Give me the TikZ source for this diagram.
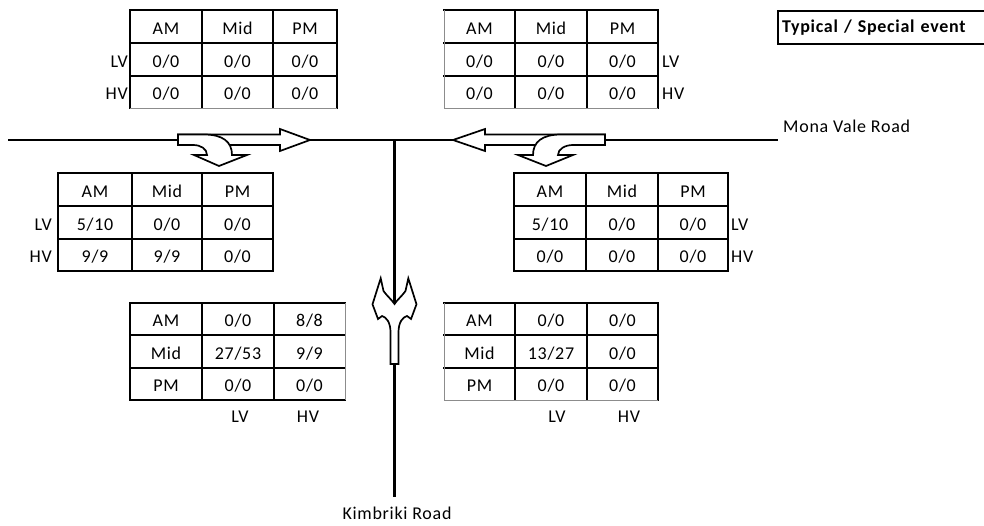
\documentclass[tikz,border=0pt]{standalone}
\usepackage{fontspec}
\setmainfont{Carlito}[LetterSpace=4]
\begin{document}
\begin{tikzpicture}[x=1pt,y=-1pt,
  grid/.style={line width=2.6pt, line cap=rect},
  faint/.style={line width=0.9pt, black!45},
  road/.style={line width=2.2pt},
  arr/.style={line width=1.7pt, fill=white, line join=miter},
  txt/.style={font=\fontsize{18}{21}\selectfont, inner sep=0pt, text height=11.5pt, text depth=0pt}]
\useasboundingbox (0,0) rectangle (984,526);

% roads
\coordinate (mvW) at (8,140);
\coordinate (mvE) at (778,140);
\coordinate (kN) at (394.5,140);
\coordinate (kS) at (394.5,497);
\draw[road] (mvW) -- (mvE);
\draw[road] (kN) -- (kS);
\node[txt, anchor=base west] (mona) at (783,133) {Mona Vale Road};
\node[txt, anchor=base] (kim) at (397,519) {Kimbriki Road};

% left movement arrows
\draw[arr] (178,134.5) -- (280,134.5) -- (280,129) -- (310,140) -- (280,151) -- (280,145) -- (178,145) -- cycle;
\draw[arr] (178,134.5) -- (204,134.5) .. controls (223,134.5) and (232,142) .. (232,155) -- (247,155) -- (219,166) -- (194,155) -- (207,155) .. controls (207,149) and (201,145) .. (193,145) -- (178,145) -- cycle;

% right movement arrows
\draw[arr] (605,134.5) -- (485,134.5) -- (485,129) -- (453,140) -- (485,151) -- (485,145) -- (605,145) -- cycle;
\draw[arr] (605,134.5) -- (561,134.5) .. controls (542,134.5) and (533,142) .. (533,155) -- (518,155) -- (546,166) -- (573,155) -- (558,155) .. controls (558,149) and (565,145) .. (573,145) -- (605,145) -- cycle;

% south approach split arrow
\draw[arr] (390.5,364) -- (390.5,332) .. controls (390.5,322) and (386,317) .. (382,316) -- (378,319) -- (372.5,304.3) -- (380.7,278.3) -- (383.5,291) .. controls (387,296) and (392,300) .. (394.5,304) .. controls (397,300) and (402,296) .. (405.5,291) -- (408.3,278.3) -- (416.5,304.3) -- (411,319) -- (407,316) .. controls (403,317) and (398.5,322) .. (398.5,332) -- (398.5,364) -- cycle;

% legend
\node[draw, line width=2pt, anchor=north west, minimum height=33pt, text width=222pt, inner xsep=4pt, inner ysep=0pt, font=\fontsize{18}{21}\selectfont\bfseries] (legend) at (777,10) {Typical / Special event};

% ---------- table TL ----------
\draw[grid] (130,10) -- (130,108) (130,10) -- (337,10) -- (337,108);
\draw[grid] (202,10) -- (202,108) (273,10) -- (273,108) (130,43) -- (337,43) (130,76) -- (337,76);
\draw[faint] (130,108) -- (337,108);
\foreach \cx/\lbl [count=\i] in {166/AM,237.5/Mid,305/PM} \node[txt] (tl-h\i) at (\cx,28.5) {\lbl};
\foreach \cx [count=\i] in {166,237.5,305} {
  \node[txt] (tl-lv\i) at (\cx,61.5) {0/0};
  \node[txt] (tl-hv\i) at (\cx,94) {0/0};
}
\node[txt, anchor=east] (tl-lv) at (128,61.5) {LV};
\node[txt, anchor=east] (tl-hv) at (128,94) {HV};

% ---------- table TR ----------
\draw[grid] (444,10) -- (658,10) -- (658,108);
\draw[grid] (515,10) -- (515,108) (587,10) -- (587,108) (444,43) -- (658,43) (444,76) -- (658,76);
\draw[faint] (444,10) -- (444,108) -- (658,108);
\foreach \cx/\lbl [count=\i] in {479.5/AM,551/Mid,622.5/PM} \node[txt] (tr-h\i) at (\cx,28.5) {\lbl};
\foreach \cx [count=\i] in {479.5,551,622.5} {
  \node[txt] (tr-lv\i) at (\cx,61.5) {0/0};
  \node[txt] (tr-hv\i) at (\cx,94) {0/0};
}
\node[txt, anchor=west] (tr-lv) at (662,61.5) {LV};
\node[txt, anchor=west] (tr-hv) at (662,94) {HV};

% ---------- table ML ----------
\draw[grid] (58,173) rectangle (273,271);
\draw[grid] (132,173) -- (132,271) (202,173) -- (202,271) (58,206) -- (273,206) (58,239) -- (273,239);
\foreach \cx/\lbl [count=\i] in {95/AM,167/Mid,237.5/PM} \node[txt] (ml-h\i) at (\cx,191.5) {\lbl};
\node[txt] (ml-lv1) at (95,224.5) {5/10};
\node[txt] (ml-lv2) at (167,224.5) {0/0};
\node[txt] (ml-lv3) at (237.5,224.5) {0/0};
\node[txt] (ml-hv1) at (95,257) {9/9};
\node[txt] (ml-hv2) at (167,257) {9/9};
\node[txt] (ml-hv3) at (237.5,257) {0/0};
\node[txt, anchor=east] (ml-lv) at (52,224.5) {LV};
\node[txt, anchor=east] (ml-hv) at (52,257) {HV};

% ---------- table MR ----------
\draw[grid] (514,173) rectangle (728,271);
\draw[grid] (586,173) -- (586,271) (658,173) -- (658,271) (514,206) -- (728,206) (514,239) -- (728,239);
\foreach \cx/\lbl [count=\i] in {550/AM,622/Mid,693/PM} \node[txt] (mr-h\i) at (\cx,191.5) {\lbl};
\node[txt] (mr-lv1) at (550,224.5) {5/10};
\node[txt] (mr-lv2) at (622,224.5) {0/0};
\node[txt] (mr-lv3) at (693,224.5) {0/0};
\foreach \cx [count=\i] in {550,622,693} \node[txt] (mr-hv\i) at (\cx,257) {0/0};
\node[txt, anchor=west] (mr-lv) at (731,224.5) {LV};
\node[txt, anchor=west] (mr-hv) at (731,257) {HV};

% ---------- table BL ----------
\draw[grid] (345,303) -- (130,303) -- (130,400) -- (345,400);
\draw[grid] (202,303) -- (202,400) (274,303) -- (274,400) (130,335) -- (345,335) (130,368) -- (345,368);
\draw[faint] (345,303) -- (345,400);
\node[txt] (bl-11) at (166,321) {AM};
\node[txt] (bl-21) at (166,353.5) {Mid};
\node[txt] (bl-31) at (166,386) {PM};
\node[txt] (bl-12) at (238,321) {0/0};
\node[txt] (bl-22) at (238,353.5) {27/53};
\node[txt] (bl-32) at (238,386) {0/0};
\node[txt] (bl-13) at (309.5,321) {8/8};
\node[txt] (bl-23) at (309.5,353.5) {9/9};
\node[txt] (bl-33) at (309.5,386) {0/0};
\node[txt] (bl-lv) at (240,417) {LV};
\node[txt] (bl-hv) at (308,417) {HV};

% ---------- table BR ----------
\draw[grid] (444,303) -- (658,303) -- (658,400);
\draw[grid] (515,303) -- (515,400) (587,303) -- (587,400) (444,335) -- (658,335) (444,368) -- (658,368);
\draw[faint] (444,303) -- (444,400) -- (658,400);
\node[txt] (br-11) at (479.5,321) {AM};
\node[txt] (br-21) at (479.5,353.5) {Mid};
\node[txt] (br-31) at (479.5,386) {PM};
\node[txt] (br-12) at (551,321) {0/0};
\node[txt] (br-22) at (551,353.5) {13/27};
\node[txt] (br-32) at (551,386) {0/0};
\node[txt] (br-13) at (622.5,321) {0/0};
\node[txt] (br-23) at (622.5,353.5) {0/0};
\node[txt] (br-33) at (622.5,386) {0/0};
\node[txt] (br-lv) at (557,417) {LV};
\node[txt] (br-hv) at (629,417) {HV};
\end{tikzpicture}
\end{document}
